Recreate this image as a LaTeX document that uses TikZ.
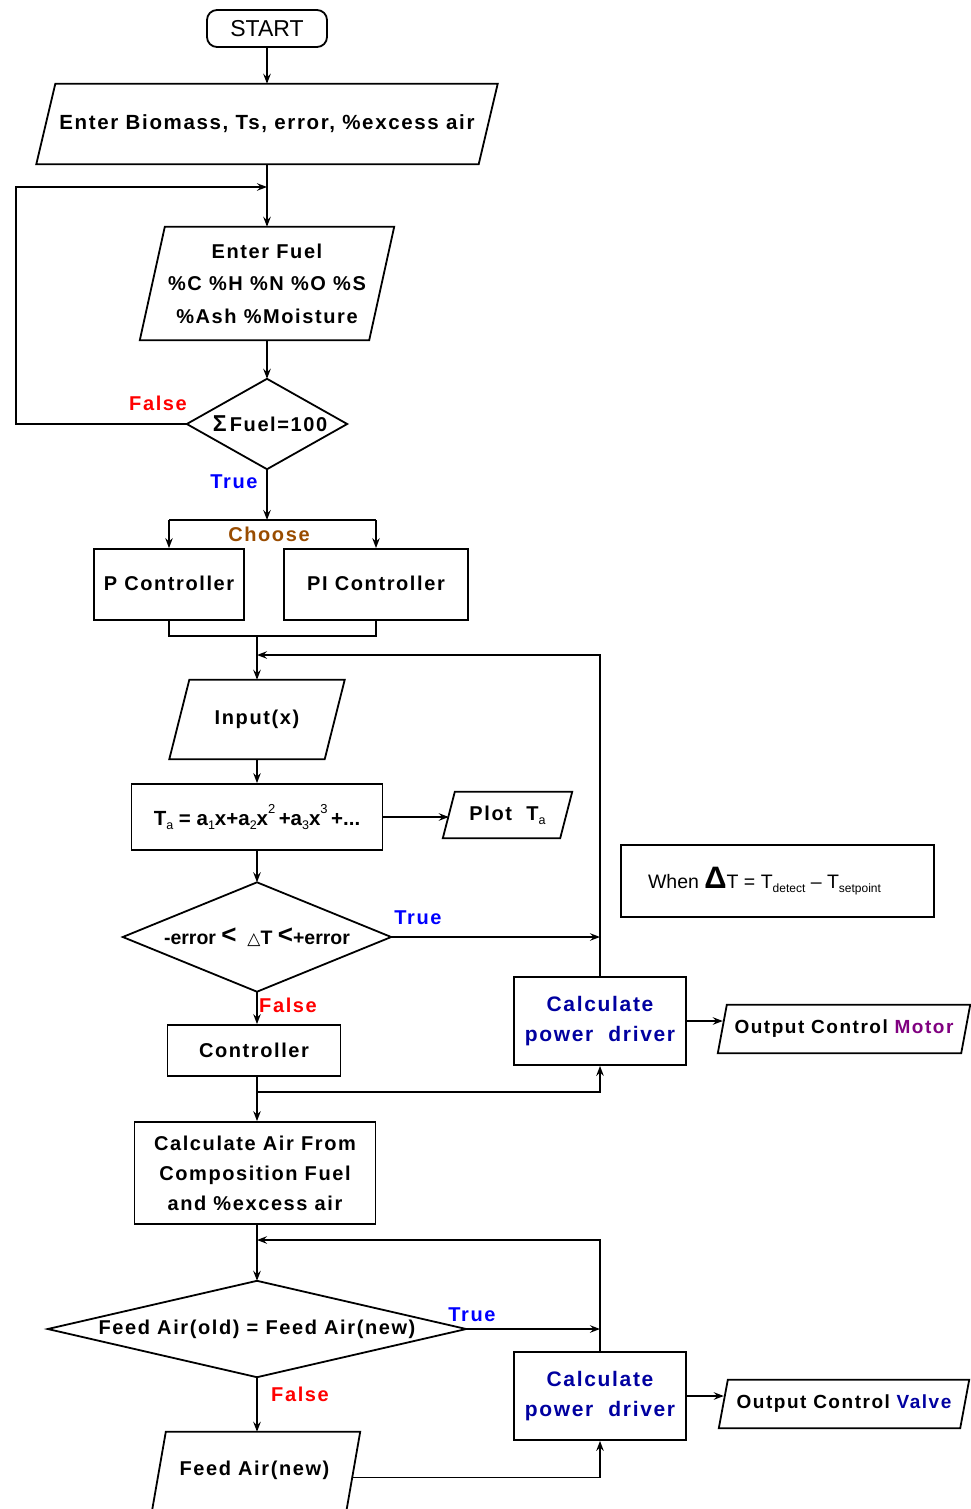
\documentclass[tikz,border=0pt]{standalone}
\usepackage{fontspec}
\setmainfont{Liberation Sans}
\newfontfamily\lbl[LetterSpace=8]{Liberation Sans}
\newfontfamily\symf{DejaVu Sans}
\usetikzlibrary{arrows.meta,calc}

\definecolor{tru}{RGB}{0,0,255}
\definecolor{fls}{RGB}{255,0,0}
\definecolor{chs}{RGB}{153,76,0}
\definecolor{drv}{RGB}{0,0,160}
\definecolor{mot}{RGB}{128,0,128}

\newcommand\fs[2]{\fontsize{#1}{#2}\selectfont}
\newcommand\lo[1]{\raisebox{-4pt}{\fs{12.5}{12}\mdseries #1}}
\newcommand\hi[1]{\raisebox{12pt}{\fs{13}{12}\mdseries #1}}
\newcommand\wlo[1]{\raisebox{-4.5pt}{\fs{12}{12}#1}}

% outlines drawn around borderless nodes
\newcommand\paraoutline[2]{\draw[ln] ([xshift=#2]#1.north west) -- (#1.north east) -- ([xshift=-#2]#1.south east) -- (#1.south west) -- cycle;}
\newcommand\diaoutline[1]{\draw[ln] (#1.north) -- (#1.east) -- (#1.south) -- (#1.west) -- cycle;}

\tikzset{
  ln/.style={line width=1.8pt, black},
  arr/.style={ln, -{Stealth[length=10pt,width=7.5pt,inset=3.5pt]}},
  plain/.style={inner sep=0pt, font=\lbl\bfseries\fs{20}{24}},
  rect/.style={plain, draw, line width=1.8pt},
  lab/.style={inner sep=0pt, font=\lbl\bfseries\fs{20}{24}},
  drvbox/.style={rect, text=drv, align=center, minimum width=172pt, minimum height=88pt, font=\lbl\bfseries\fs{21}{30}},
}

\begin{document}
\begin{tikzpicture}[x=1pt, y=-1pt]
\useasboundingbox (0,0) rectangle (971,1509);
\clip (0,0) rectangle (971,1509);
\fill[white] (0,0) rectangle (971,1509);

% ---------- input stage ----------
\node[draw, line width=1.8pt, rounded corners=10pt, minimum width=120pt, minimum height=37pt, inner sep=0pt, font=\fs{23}{26}] (start) at (267,28.5) {START};

\node[plain, minimum width=461pt, minimum height=80pt, font=\lbl\bfseries\fs{20.5}{24}] (bio) at (267,124) {Enter Biomass, Ts, error, \%excess air};
\paraoutline{bio}{19}

\node[plain, align=center, minimum width=254pt, minimum height=113pt, font=\lbl\bfseries\fs{20}{32.5}] (fuel) at (267,283.5) {Enter Fuel\\\%C \%H \%N \%O \%S\\\%Ash \%Moisture};
\paraoutline{fuel}{25}

\node[plain, minimum width=160pt, minimum height=90pt] (sum) at (267,424) {\hspace{6pt}{\fs{23}{24}Σ}\,Fuel=100};
\diaoutline{sum}

\node[lab, text=fls] (f1) at (158,403) {False};
\node[lab, text=tru] (t1) at (234,482) {True};
\node[lab, text=chs] (choose) at (269,534) {Choose};

\node[rect, minimum width=150pt, minimum height=71pt] (pc) at (169,584.5) {\raisebox{3pt}{P Controller}};
\node[rect, minimum width=184pt, minimum height=71pt] (pi) at (376,584.5) {\raisebox{3pt}{PI Controller}};

\draw[arr] (start.south) -- (bio.north);
\coordinate (j0) at (267,187);
\coordinate (lp) at (16,187);
\draw[ln] (bio.south) -- (j0);
\draw[arr] (j0) -- (fuel.north);
\draw[arr] (fuel.south) -- (sum.north);
\draw[arr] (sum.west) -| (lp) -- (j0);

\coordinate (ch) at (267,520);
\coordinate (chl) at (pc.north |- ch);
\coordinate (chr) at (pi.north |- ch);
\draw[arr] (sum.south) -- (ch);
\draw[ln] (chl) -- (chr);
\draw[arr] (chl) -- (pc.north);
\draw[arr] (chr) -- (pi.north);

% ---------- temperature loop ----------
\node[plain, minimum width=175pt, minimum height=79pt] (inp) at (257,719.5) {Input(x)};
\paraoutline{inp}{20}

\coordinate (ml) at (pc.south |- 0,636);
\coordinate (mr) at (pi.south |- 0,636);
\coordinate (mc) at (inp.north |- ml);
\coordinate (j1) at (257,655);
\draw[ln] (pc.south) -- (ml) -- (mr) -- (pi.south);
\draw[arr] (mc) -- (inp.north);

\node[rect, minimum width=251pt, minimum height=66pt, font=\bfseries\fs{20.5}{24}] (ta) at (257,817) {T\lo{a} = a\lo{1}x+a\lo{2}x\hi{2}\,+a\lo{3}x\hi{3}\,+...};
\draw[arr] (inp.south) -- (ta.north);

\node[plain, minimum width=129pt, minimum height=46pt] (plot) at (507.5,815) {Plot\ \ T\lo{a}};
\paraoutline{plot}{12}
\coordinate (plotin) at ($(plot.west)+(6,0)$);
\draw[arr] (ta.east) -- (ta.east -| plotin);

\node[plain, minimum width=268pt, minimum height=109pt, font=\bfseries\fs{19.5}{24}] (d2) at (257,937) {-error\ \raisebox{1pt}{\fs{26}{26}<}\ \ {\symf\mdseries\fs{17}{20}△}T\ \raisebox{1pt}{\fs{26}{26}<}+error};
\diaoutline{d2}
\draw[arr] (ta.south) -- (d2.north);

\node[lab, text=tru] (t2) at (418,918) {True};
\node[lab, text=fls] (f2) at (288,1005) {False};

\node[draw, line width=2.2pt, minimum width=313pt, minimum height=72pt, inner sep=0pt, font=\fs{19.5}{22}] (when) at (777.5,881) {\hspace{-26pt}When {\bfseries\fs{31}{28}Δ}T = T\wlo{detect} – T\wlo{setpoint}};

\node[drvbox] (cp1) at (600,1021) {Calculate\\power\ \ driver};
\node[plain, minimum width=252pt, minimum height=48pt, font=\lbl\bfseries\fs{19}{24}] (motor) at (844,1029) {Output Control {\color{mot}Motor}};
\paraoutline{motor}{9}
\coordinate (motorin) at ($(motor.west)+(5,0)$);
\draw[arr] (cp1.east) -- (cp1.east -| motorin);

\draw[arr] (d2.east) -- (d2.east -| cp1.north);
\draw[arr] (cp1.north) |- (j1);

\node[rect, minimum width=173pt, minimum height=51pt] (ctl) at (254,1050.5) {Controller};
\draw[arr] (d2.south) -- (d2.south |- ctl.north);

% ---------- air feed loop ----------
\node[rect, align=center, minimum width=241pt, minimum height=102pt, font=\lbl\bfseries\fs{20}{30}] (air) at (255,1173) {Calculate Air From\\Composition Fuel\\and \%excess air};

\coordinate (j2) at (257,1092);
\draw[arr] (d2.south |- ctl.south) -- (d2.south |- air.north);
\draw[arr] (j2) -| (cp1.south);

\node[plain, minimum width=418pt, minimum height=96pt] (d3) at (257,1329) {Feed Air(old) = Feed Air(new)};
\diaoutline{d3}
\draw[arr] (d2.south |- air.south) -- (d3.north);

\node[lab, text=tru] (t3) at (472,1315) {True};
\node[lab, text=fls] (f3) at (300,1394) {False};

\node[drvbox] (cp2) at (600,1396) {Calculate\\power\ \ driver};
\node[plain, minimum width=250pt, minimum height=48pt, font=\lbl\bfseries\fs{19}{24}] (valve) at (844,1404) {Output Control {\color{drv}Valve}};
\paraoutline{valve}{9}
\coordinate (valvein) at ($(valve.west)+(5,0)$);
\draw[arr] (cp2.east) -- (cp2.east -| valvein);

\coordinate (j3) at (257,1240);
\draw[arr] (d3.east) -- (d3.east -| cp2.north);
\draw[arr] (cp2.north) |- (j3);

\node[plain, minimum width=211pt, minimum height=77pt] (feed) at (254.5,1470.5) {Feed Air(new)};
\draw[ln] ([yshift=-20pt]feed.south west) -- ([xshift=17pt]feed.north west) -- (feed.north east) -- ([xshift=-17pt,yshift=-20pt]feed.south east);
\draw[arr] (d3.south) -- (d3.south |- feed.north);
\coordinate (feedout) at ($(feed.east)+(-8.5,7)$);
\draw[arr] (feedout) -| (cp2.south);
\end{tikzpicture}
\end{document}
